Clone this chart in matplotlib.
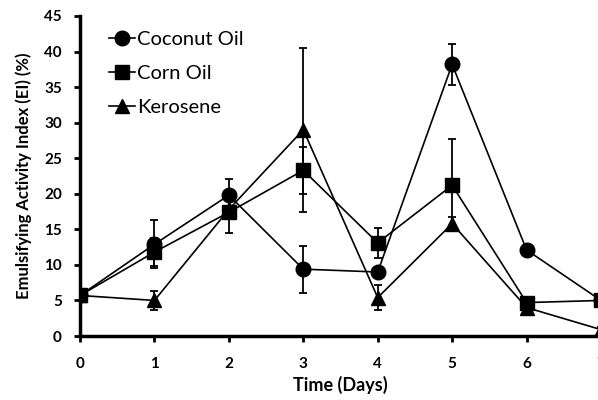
import matplotlib.pyplot as plt

# 数据 (天数, EI 平均值, 误差)
days = [0, 1, 2, 3, 4, 5, 6, 7]

coconut = [5.7, 12.9, 19.8, 9.4, 9.0, 38.2, 12.1, 5.0]
coconut_err = [0, 3.4, 2.3, 3.3, 0.4, 2.9, 0.4, 0.3]

corn = [5.7, 11.8, 17.4, 23.3, 13.1, 21.2, 4.7, 5.0]
corn_err = [0.3, 2.0, 2.9, 3.3, 2.15, 6.5, 0.5, 0.3]

kerosene = [5.7, 5.0, 17.8, 29.0, 5.4, 15.8, 4.0, 0.9]
kerosene_err = [0.3, 1.3, 0.5, 11.5, 1.75, 1.0, 0.5, 0.3]

plt.rcParams['font.family'] = ['Lato', 'DejaVu Sans']

fig = plt.figure(figsize=(5.98, 4), dpi=100)
ax = fig.add_axes([0.1338, 0.16, 0.8712, 0.80])

series = [
    ("Coconut Oil", coconut, coconut_err, "o", 10.5),
    ("Corn Oil", corn, corn_err, "s", 9.5),
    ("Kerosene", kerosene, kerosene_err, "^", 9.5),
]
for label, vals, errs, mk, ms in series:
    # 误差线 (不进图例)
    ax.errorbar(days, vals, yerr=errs, fmt='none', ecolor='black',
                elinewidth=1.3, capsize=3, capthick=1.3)
    ax.plot(days, vals, '-' + mk, color='black', linewidth=1.2,
            markersize=ms, label=label)

ax.set_xlim(0, 7)
ax.set_ylim(0, 45)
ax.set_xticks(days)
ax.set_yticks(range(0, 50, 5))

for side in ['top', 'right']:
    ax.spines[side].set_visible(False)
for side in ['left', 'bottom']:
    ax.spines[side].set_linewidth(2.5)
    ax.spines[side].set_clip_on(False)

ax.tick_params(axis='both', direction='out', length=4, width=2,
               labelsize=11, pad=9)
for t in ax.get_xticklabels() + ax.get_yticklabels():
    t.set_fontweight('bold')
ax.tick_params(axis='x', pad=11)

ax.set_xlabel('Time (Days)', fontsize=13, fontweight='bold', labelpad=4)
ax.set_ylabel('Emulsifying Activity Index (EI) (%)', fontsize=12,
              fontweight='bold', labelpad=9)

ax.legend(loc='upper left', bbox_to_anchor=(0.02, 1.01), frameon=False,
          fontsize=14.5, handlelength=1.3, handletextpad=0.1,
          labelspacing=0.85)

fig.savefig('out.png', dpi=100)
